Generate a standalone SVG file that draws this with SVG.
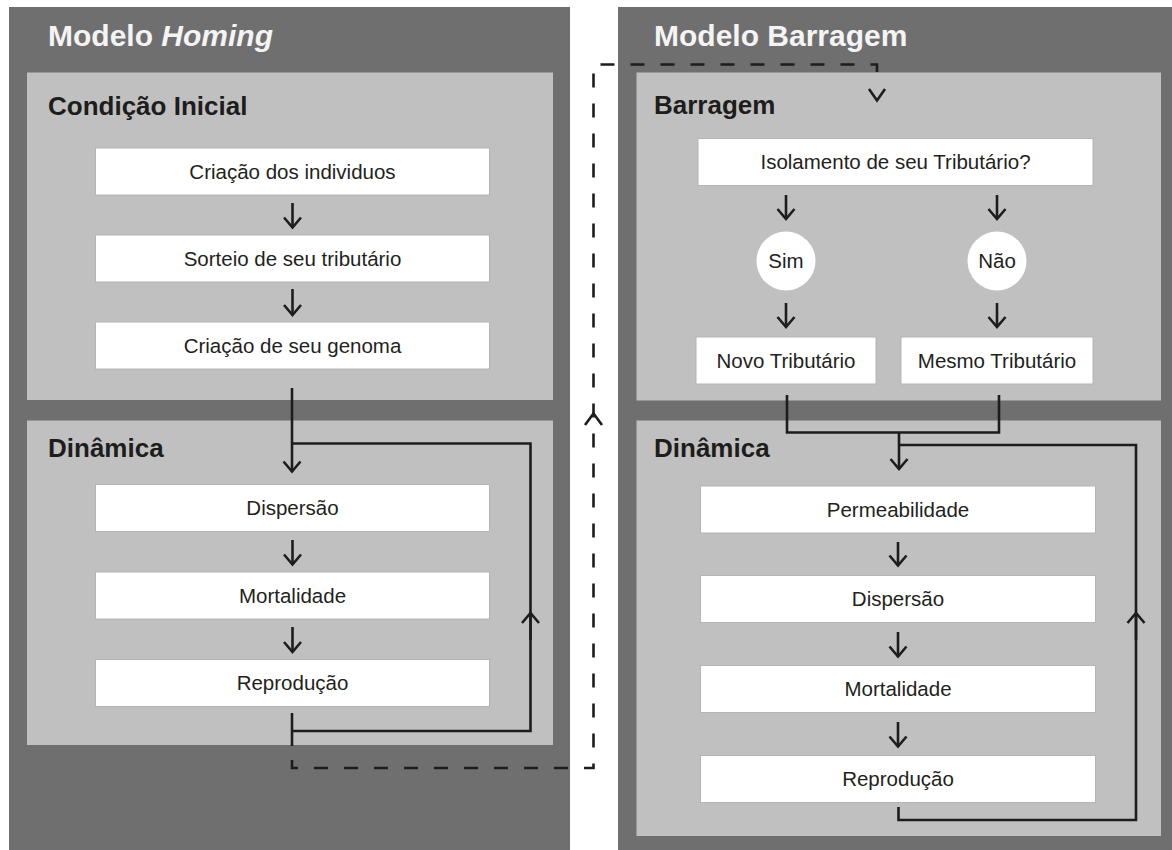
<svg xmlns="http://www.w3.org/2000/svg" width="1172" height="850" viewBox="0 0 1172 850">
<style>
.panel{fill:#706f6f}
.sect{fill:#c0c0c0}
.box{fill:#ffffff;stroke:#b4b4b4;stroke-width:1}
.circ{fill:#ffffff}
.title{font-family:"Liberation Sans",Arial,sans-serif;font-weight:bold;font-size:30px;fill:#f4f4f4}
.head{font-family:"Liberation Sans",Arial,sans-serif;font-weight:bold;font-size:26px;fill:#1d1d1b}
.lbl{font-family:"Liberation Sans",Arial,sans-serif;font-size:20.5px;fill:#231f20;text-anchor:middle}
.ln{fill:none;stroke:#1d1d1b;stroke-width:2.6}
.dash{fill:none;stroke:#1d1d1b;stroke-width:2.6;stroke-dasharray:14 16}
.chev{fill:none;stroke:#1d1d1b;stroke-width:2.6;stroke-linejoin:miter}
</style>
<defs>
<marker id="ah" viewBox="-12 -12 24 24" markerWidth="24" markerHeight="24" refX="0" refY="0" orient="auto" markerUnits="userSpaceOnUse">
<path d="M-10,-8.5 L0,0 L-10,8.5" fill="none" stroke="#1d1d1b" stroke-width="2.6"/>
</marker>
</defs>

<g id="panel-homing">
<rect class="panel" x="9" y="7" width="561" height="843"/>
<text class="title" x="48" y="46">Modelo <tspan font-style="italic">Homing</tspan></text>
</g>
<g id="panel-barragem">
<rect class="panel" x="618" y="7" width="554" height="843"/>
<text class="title" x="654" y="46">Modelo Barragem</text>
</g>

<g id="sect-condicao">
<rect class="sect" x="27" y="72.5" width="526" height="327.5"/>
<text class="head" x="48" y="115">Condição Inicial</text>
</g>
<g id="sect-dinamica-left">
<rect class="sect" x="27" y="420.5" width="526" height="324.5"/>
<text class="head" x="48" y="457">Dinâmica</text>
</g>
<g id="sect-barragem">
<rect class="sect" x="636.5" y="72.5" width="524.5" height="328"/>
<text class="head" x="654" y="114">Barragem</text>
</g>
<g id="sect-dinamica-right">
<rect class="sect" x="636.5" y="420.5" width="524.5" height="415.5"/>
<text class="head" x="654" y="457">Dinâmica</text>
</g>

<g id="n-criacao-ind"><rect class="box" x="95.5" y="148" width="394" height="47"/><text class="lbl" x="292.5" y="178.5">Criação dos individuos</text></g>
<g id="n-sorteio"><rect class="box" x="95.5" y="235" width="394" height="47"/><text class="lbl" x="292.5" y="265.5">Sorteio de seu tributário</text></g>
<g id="n-genoma"><rect class="box" x="95.5" y="322" width="394" height="47"/><text class="lbl" x="292.5" y="352.5">Criação de seu genoma</text></g>
<g id="n-dispersao-l"><rect class="box" x="95.5" y="484.5" width="394" height="47"/><text class="lbl" x="292.5" y="515">Dispersão</text></g>
<g id="n-mortalidade-l"><rect class="box" x="95.5" y="572" width="394" height="47"/><text class="lbl" x="292.5" y="602.5">Mortalidade</text></g>
<g id="n-reproducao-l"><rect class="box" x="95.5" y="659.5" width="394" height="47"/><text class="lbl" x="292.5" y="690">Reprodução</text></g>

<g id="n-isolamento"><rect class="box" x="698" y="138.5" width="395" height="47"/><text class="lbl" x="895.5" y="169">Isolamento de seu Tributário?</text></g>
<g id="n-sim"><circle class="circ" cx="786" cy="261" r="29.5"/><text class="lbl" x="786" y="268">Sim</text></g>
<g id="n-nao"><circle class="circ" cx="997" cy="261" r="29.5"/><text class="lbl" x="997" y="268">Não</text></g>
<g id="n-novo"><rect class="box" x="696" y="337" width="180" height="47"/><text class="lbl" x="786" y="367.5">Novo Tributário</text></g>
<g id="n-mesmo"><rect class="box" x="901" y="337" width="192" height="47"/><text class="lbl" x="997" y="367.5">Mesmo Tributário</text></g>
<g id="n-permeabilidade"><rect class="box" x="700.5" y="486" width="395" height="47"/><text class="lbl" x="898" y="516.5">Permeabilidade</text></g>
<g id="n-dispersao-r"><rect class="box" x="700.5" y="575.5" width="395" height="47"/><text class="lbl" x="898" y="606">Dispersão</text></g>
<g id="n-mortalidade-r"><rect class="box" x="700.5" y="665.5" width="395" height="47"/><text class="lbl" x="898" y="696">Mortalidade</text></g>
<g id="n-reproducao-r"><rect class="box" x="700.5" y="755.5" width="395" height="47"/><text class="lbl" x="898" y="786">Reprodução</text></g>

<g id="connectors">
<path class="ln" d="M292.5,203 V227.5" marker-end="url(#ah)"/>
<path class="ln" d="M292.5,289 V315" marker-end="url(#ah)"/>
<path class="ln" d="M292,388 V471.5" marker-end="url(#ah)"/>
<path class="ln" d="M292.5,540 V564.5" marker-end="url(#ah)"/>
<path class="ln" d="M292.5,627 V652" marker-end="url(#ah)"/>
<path class="ln" d="M292,443.5 H530.5 V731 H292"/>
<path class="ln" d="M530.5,640 V613" marker-end="url(#ah)"/>
<path class="ln" d="M292,713 V746"/>
<path class="dash" d="M292,760 V768 H593.5 V64.5 H877 V74"/>
<path class="chev" d="M585,425 L593.5,413.5 L602,425"/>
<path class="chev" d="M869,89 L877,100.5 L885,89"/>
<path class="ln" d="M786,195 V219" marker-end="url(#ah)"/>
<path class="ln" d="M997,195 V219" marker-end="url(#ah)"/>
<path class="ln" d="M786,303 V327" marker-end="url(#ah)"/>
<path class="ln" d="M997,303 V327" marker-end="url(#ah)"/>
<path class="ln" d="M787,395 V432.5 H999 V395"/>
<path class="ln" d="M899,432.5 V469" marker-end="url(#ah)"/>
<path class="ln" d="M898,542 V565.5" marker-end="url(#ah)"/>
<path class="ln" d="M898,632 V656.5" marker-end="url(#ah)"/>
<path class="ln" d="M898,722 V746.5" marker-end="url(#ah)"/>
<path class="ln" d="M899,445 H1136 V820 H898.5 V807"/>
<path class="ln" d="M1136,640 V613" marker-end="url(#ah)"/>
</g>
</svg>
